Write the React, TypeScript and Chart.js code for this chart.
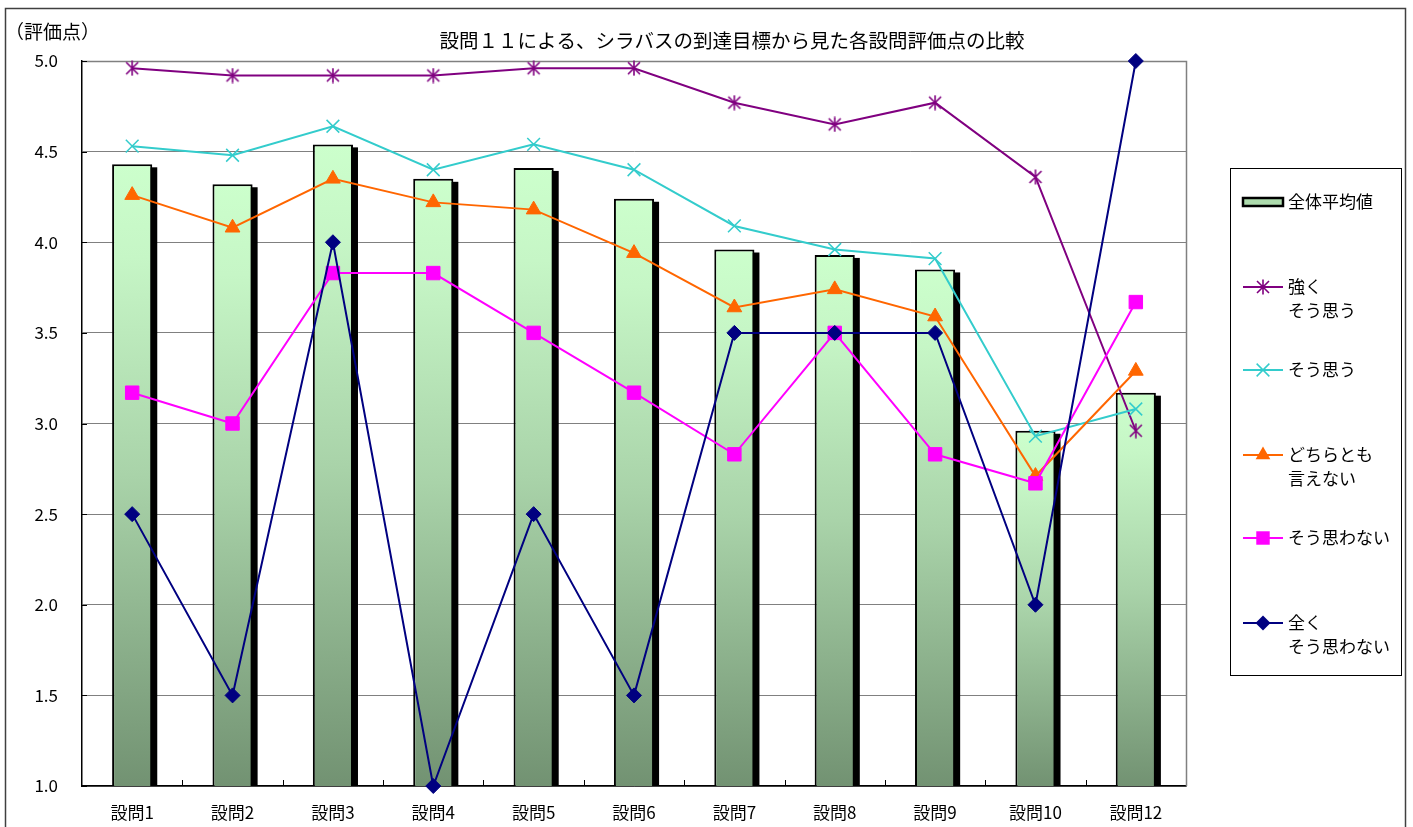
import React, { useEffect, useRef } from "react";
import { Chart, registerables } from "chart.js";

Chart.register(...registerables);

const categories = ["設問1", "設問2", "設問3", "設問4", "設問5", "設問6", "設問7", "設問8", "設問9", "設問10", "設問12"];
const overallAverage = [4.43, 4.32, 4.54, 4.35, 4.41, 4.24, 3.96, 3.93, 3.85, 2.96, 3.17];
const stronglyAgree = [4.96, 4.92, 4.92, 4.92, 4.96, 4.96, 4.77, 4.65, 4.77, 4.36, 2.96];
const agree = [4.53, 4.48, 4.64, 4.40, 4.54, 4.40, 4.09, 3.96, 3.91, 2.93, 3.08];
const neutral = [4.26, 4.08, 4.35, 4.22, 4.18, 3.94, 3.64, 3.74, 3.59, 2.71, 3.29];
const disagree = [3.17, 3.0, 3.83, 3.83, 3.5, 3.17, 2.83, 3.5, 2.83, 2.67, 3.67];
const stronglyDisagree = [2.5, 1.5, 4.0, 1.0, 2.5, 1.5, 3.5, 3.5, 3.5, 2.0, 5.0];

const yMin = 1.0;
const yMax = 5.0;
const yStep = 0.5;

const titleText = "設問１１による、シラバスの到達目標から見た各設問評価点の比較";
const yAxisLabel = "（評価点）";
const legendLabels: string[][] = [
  ["全体平均値"],
  ["強く", "そう思う"],
  ["そう思う"],
  ["どちらとも", "言えない"],
  ["そう思わない"],
  ["全く", "そう思わない"],
];

const FONT = '"Noto Sans CJK JP", "Noto Sans CJK SC", sans-serif';

function makeStar(color: string) {
  const c = document.createElement("canvas");
  c.width = 16;
  c.height = 16;
  const g = c.getContext("2d")!;
  g.strokeStyle = color;
  g.lineWidth = 1.6;
  g.beginPath();
  g.moveTo(2, 2);
  g.lineTo(14, 14);
  g.moveTo(14, 2);
  g.lineTo(2, 14);
  g.moveTo(8, 0.5);
  g.lineTo(8, 15.5);
  g.stroke();
  return c;
}

function drawMarker(ctx: CanvasRenderingContext2D, style: any, x: number, y: number, r: number, color: string) {
  ctx.save();
  ctx.fillStyle = color;
  ctx.strokeStyle = color;
  if (typeof style !== "string") {
    ctx.drawImage(style, x - style.width / 2, y - style.height / 2);
  } else if (style === "crossRot") {
    const o = r * Math.SQRT1_2;
    ctx.lineWidth = 1.5;
    ctx.beginPath();
    ctx.moveTo(x - o, y - o);
    ctx.lineTo(x + o, y + o);
    ctx.moveTo(x + o, y - o);
    ctx.lineTo(x - o, y + o);
    ctx.stroke();
  } else if (style === "triangle") {
    ctx.beginPath();
    for (let k = 0; k < 3; k++) {
      const a = (k * 2 * Math.PI) / 3;
      const px = x + Math.sin(a) * r;
      const py = y - Math.cos(a) * r;
      if (k === 0) ctx.moveTo(px, py);
      else ctx.lineTo(px, py);
    }
    ctx.closePath();
    ctx.fill();
  } else if (style === "rect") {
    const s = r * Math.SQRT1_2;
    ctx.fillRect(x - s, y - s, 2 * s, 2 * s);
  } else if (style === "rectRot") {
    ctx.beginPath();
    ctx.moveTo(x, y - r);
    ctx.lineTo(x + r, y);
    ctx.lineTo(x, y + r);
    ctx.lineTo(x - r, y);
    ctx.closePath();
    ctx.fill();
  }
  ctx.restore();
}

export default function App() {
  const ref = useRef<HTMLCanvasElement | null>(null);

  useEffect(() => {
    if (!ref.current) return;
    const star = makeStar("#800080");

    const lineSeries = [
      { data: stronglyAgree, color: "#800080", style: star as any, r: 8, order: 5 },
      { data: agree, color: "#33CCCC", style: "crossRot", r: 9, order: 4 },
      { data: neutral, color: "#FF6600", style: "triangle", r: 8.5, order: 3 },
      { data: disagree, color: "#FF00FF", style: "rect", r: 9.5, order: 2 },
      { data: stronglyDisagree, color: "#000080", style: "rectRot", r: 7.5, order: 1 },
    ];

    const gradientFill = (c: any) => {
      const chart = c.chart;
      const area = chart.chartArea;
      if (!area || c.dataIndex == null || !chart.scales.y) return "#CCFFCC";
      const top = chart.scales.y.getPixelForValue(overallAverage[c.dataIndex]);
      const g = chart.ctx.createLinearGradient(0, top, 0, area.bottom);
      g.addColorStop(0, "#CCFFCC");
      g.addColorStop(0.15, "#C6F6C6");
      g.addColorStop(0.5, "#A9D3A9");
      g.addColorStop(1, "#729272");
      return g;
    };

    const decor = {
      id: "decor",
      beforeDatasetsDraw(chart: any) {
        const ctx: CanvasRenderingContext2D = chart.ctx;
        const { left, right, top, bottom } = chart.chartArea;
        const xs = chart.scales.x;
        const ys = chart.scales.y;
        ctx.save();
        // top & right plot border
        ctx.strokeStyle = "#808080";
        ctx.lineWidth = 1.5;
        ctx.beginPath();
        ctx.moveTo(left, top + 0.5);
        ctx.lineTo(right + 0.5, top + 0.5);
        ctx.lineTo(right + 0.5, bottom);
        ctx.stroke();
        // inner tick marks
        ctx.strokeStyle = "#000";
        ctx.lineWidth = 1;
        ctx.beginPath();
        for (let i = 1; i < categories.length; i++) {
          const px = Math.round((xs.getPixelForValue(i - 1) + xs.getPixelForValue(i)) / 2) + 0.5;
          ctx.moveTo(px, bottom);
          ctx.lineTo(px, bottom - 6);
        }
        ys.ticks.forEach((t: any) => {
          const py = Math.round(ys.getPixelForValue(t.value)) + 0.5;
          ctx.moveTo(left, py);
          ctx.lineTo(left + 5, py);
        });
        ctx.stroke();
        // bar shadows (clipped to plot area)
        ctx.fillStyle = "#000";
        const meta = chart.getDatasetMeta(0);
        meta.data.forEach((bar: any) => {
          const p = bar.getProps(["x", "y", "base", "width"], true);
          const b = Math.min(p.base, bottom);
          ctx.fillRect(p.x - p.width / 2 + 5, p.y + 3, p.width, b - p.y - 3);
        });
        ctx.restore();
      },
      afterDraw(chart: any) {
        const ctx: CanvasRenderingContext2D = chart.ctx;
        ctx.save();
        // outer frame
        ctx.strokeStyle = "#404040";
        ctx.lineWidth = 1.5;
        ctx.strokeRect(5.5, 8.5, 1400, 840);
        // title
        ctx.fillStyle = "#000";
        ctx.textBaseline = "middle";
        ctx.textAlign = "center";
        ctx.font = `19.5px ${FONT}`;
        ctx.fillText(titleText, 732, 41);
        // y axis label
        ctx.textAlign = "left";
        ctx.font = `19px ${FONT}`;
        ctx.fillText(yAxisLabel, 5, 32);
        // legend box
        const lx = 1230.5, ly = 168.5, lw = 171, lh = 507;
        ctx.strokeStyle = "#000";
        ctx.lineWidth = 1;
        ctx.strokeRect(lx, ly, lw, lh);
        const rowY = [202, 287, 370, 455, 538, 623];
        const symL = 1243, symR = 1283, textX = 1288;
        ctx.font = `17px ${FONT}`;
        legendLabels.forEach((lines, i) => {
          const y = rowY[i];
          if (i === 0) {
            ctx.fillStyle = "#AEDCAE";
            ctx.fillRect(symL, y - 4, symR - symL, 8);
            ctx.strokeStyle = "#000";
            ctx.lineWidth = 2.5;
            ctx.strokeRect(symL, y - 4, symR - symL, 8);
          } else {
            const s = lineSeries[i - 1];
            ctx.strokeStyle = s.color;
            ctx.lineWidth = 2;
            ctx.beginPath();
            ctx.moveTo(symL, y);
            ctx.lineTo(symR, y);
            ctx.stroke();
            drawMarker(ctx, s.style, (symL + symR) / 2, y, s.r, s.color);
          }
          ctx.fillStyle = "#000";
          ctx.textAlign = "left";
          ctx.textBaseline = "middle";
          lines.forEach((t, k) => ctx.fillText(t, textX, y + k * 24));
        });
        ctx.restore();
      },
    };

    const chart = new Chart(ref.current, {
      data: {
        labels: categories,
        datasets: [
          {
            type: "bar",
            label: legendLabels[0].join(""),
            data: overallAverage,
            backgroundColor: gradientFill,
            borderColor: "#000",
            borderWidth: 2,
            barPercentage: 0.4,
            categoryPercentage: 1,
            order: 10,
          } as any,
          ...lineSeries.map((s, i) => ({
            type: "line",
            label: legendLabels[i + 1].join(""),
            data: s.data,
            borderColor: s.color,
            backgroundColor: s.color,
            borderWidth: 2,
            tension: 0,
            fill: false,
            pointStyle: s.style,
            pointRadius: s.r,
            pointBorderWidth: s.style === "crossRot" ? 1.5 : 1,
            pointBorderColor: s.color,
            pointBackgroundColor: s.color,
            order: s.order,
            clip: false,
          })) as any,
        ],
      },
      options: {
        animation: false,
        responsive: false,
        devicePixelRatio: 1,
        layout: { padding: { top: 61, right: 227, left: 0, bottom: 0 } },
        plugins: { legend: { display: false }, tooltip: { enabled: false }, title: { display: false } },
        scales: {
          x: {
            type: "category",
            offset: true,
            grid: { display: false, drawTicks: false },
            border: { color: "#000", width: 1.5 },
            ticks: { color: "#000", font: { family: FONT, size: 17 }, padding: 16, maxRotation: 0, autoSkip: false },
            afterFit: (s: any) => {
              s.height = 41;
            },
          },
          y: {
            min: yMin,
            max: yMax,
            grid: { color: "#808080", lineWidth: 1, drawTicks: false },
            border: { color: "#000", width: 1.5 },
            ticks: {
              stepSize: yStep,
              color: "#000",
              font: { family: FONT, size: 17 },
              padding: 24,
              callback: (v: any) => Number(v).toFixed(1),
            },
            afterFit: (s: any) => {
              s.width = 82;
            },
          },
        },
      },
      plugins: [decor],
    } as any);

    return () => chart.destroy();
  }, []);

  return (
    <div style={{ position: "absolute", left: 0, top: 0, width: 1413, height: 827, background: "#fff" }}>
      <canvas ref={ref} width={1413} height={827} style={{ width: 1413, height: 827, display: "block" }} />
    </div>
  );
}
